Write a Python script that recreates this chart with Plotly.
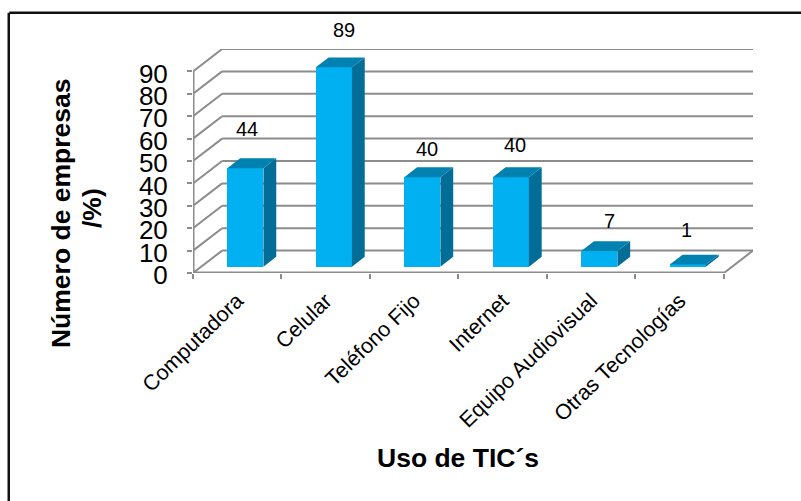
import plotly.graph_objects as go

categories = ["Computadora", "Celular", "Teléfono Fijo", "Internet",
              "Equipo Audiovisual", "Otras Tecnologías"]
values = [44, 89, 40, 40, 7, 1]
value_ticks = [0, 10, 20, 30, 40, 50, 60, 70, 80, 90]

# Oblique projection: one unit of depth moves this far along each axis
DEPTH_X = 0.329
DEPTH_Y = 10.0
BAR_WIDTH = 0.408
BAR_NEAR = 0.28
BAR_FAR = 0.72
GRID = "#8c8c8c"
FONT = "Liberation Sans, Arial, sans-serif"
N = len(categories)


def polygon_trace(xs, ys, color):
    return go.Scatter(x=xs, y=ys, mode="lines", fill="toself", fillcolor=color,
                      line=dict(width=0), hoverinfo="skip", showlegend=False)


def box_line(x0, y0, x1, y1, width=2):
    # Box edges stay beneath the traces so the bars cover them
    fig.add_shape(type="line", layer="below", x0=x0, y0=y0, x1=x1, y1=y1,
                  line=dict(color=GRID, width=width))


fig = go.Figure()

# Walls and floor of the box
for v in value_ticks:
    box_line(0, v, DEPTH_X, v + DEPTH_Y)
    box_line(DEPTH_X, v + DEPTH_Y, N + DEPTH_X, v + DEPTH_Y)
box_line(N, 0, N + DEPTH_X, DEPTH_Y)
box_line(0, 0, 0, max(value_ticks), width=3)
box_line(0, 0, N, 0, width=3)

# Front faces of the bars
centers = [i + 0.5 + BAR_NEAR * DEPTH_X for i in range(N)]
base = BAR_NEAR * DEPTH_Y
fig.add_trace(go.Bar(x=centers, y=values, base=base, width=BAR_WIDTH,
                     marker=dict(color="#00B0F0", line=dict(width=0)),
                     showlegend=False))

# Side and top faces derived from each bar's value
dx = (BAR_FAR - BAR_NEAR) * DEPTH_X
dy = (BAR_FAR - BAR_NEAR) * DEPTH_Y
for c, v in zip(centers, values):
    left, right = c - BAR_WIDTH / 2, c + BAR_WIDTH / 2
    top = base + v
    fig.add_trace(polygon_trace([right, right + dx, right + dx, right, right],
                                [base, base + dy, top + dy, top, base], "#026E98"))
    fig.add_trace(polygon_trace([left, left + dx, right + dx, right, left],
                                [top, top + dy, top + dy, top, top], "#0081B0"))

# Value labels float above the bars, each nudged clear of the bars around it
label_lift = [39, 37, 28, 32, 30, 34]
label_side = [-1, 7, 2, 2, 8, -4]
for c, v, lift, side in zip(centers, values, label_lift, label_side):
    fig.add_annotation(x=c + 0.03, y=base + v, text=str(v), showarrow=False,
                       yshift=lift, xshift=side,
                       font=dict(family=FONT, size=20, color="#000000"))

# Axis titles
title_font = dict(family=FONT, size=26.5, color="#000000")
fig.add_annotation(x=-0.237, y=0.269, xref="paper", yref="paper",
                   xanchor="center", yanchor="middle",
                   text="<b>Número de empresas</b>", textangle=-90,
                   showarrow=False, font=title_font)
fig.add_annotation(x=-0.18, y=0.291, xref="paper", yref="paper",
                   xanchor="center", yanchor="middle",
                   text="<b>/%)</b>", textangle=-90,
                   showarrow=False, font=title_font)
fig.add_annotation(x=0.473, y=-0.825, xref="paper", yref="paper",
                   xanchor="center", yanchor="middle",
                   text="<b>Uso de TIC´s</b>", showarrow=False,
                   font=title_font)

# Chart frame: top and left edges only
fig.add_shape(type="line", xref="paper", yref="paper", x0=-0.328, x1=1.1,
              y0=1.162, y1=1.162, line=dict(color="#111111", width=2.5))
fig.add_shape(type="line", xref="paper", yref="paper", x0=-0.329, x1=-0.329,
              y0=1.162, y1=-1.02, line=dict(color="#111111", width=2.5))

fig.update_layout(
    width=801, height=501, autosize=False,
    margin=dict(l=192.7, r=48.3, t=48.5, b=227.5),
    paper_bgcolor="white", plot_bgcolor="white",
    showlegend=False, bargap=0,
    xaxis=dict(range=[0, N + DEPTH_X], showgrid=False, zeroline=False, showline=False,
               tickmode="array", tickvals=[i + 0.5 for i in range(N)], ticktext=categories,
               tickangle=-44, ticks="", ticklabelstandoff=10,
               tickfont=dict(family=FONT, size=21.5, color="#000000"),
               minor=dict(ticks="outside", ticklen=5, tickwidth=2, tickcolor=GRID,
                          tickmode="array", tickvals=list(range(N + 1))),
               automargin=False),
    yaxis=dict(range=[0, 100], showgrid=False, zeroline=False, showline=False,
               tickmode="array", tickvals=value_ticks, ticks="outside", ticklen=5,
               tickwidth=2, tickcolor=GRID, ticklabelstandoff=14, ticklabelshift=2,
               tickfont=dict(family=FONT, size=26, color="#000000"),
               automargin=False),
)

fig.write_html("out.html")
